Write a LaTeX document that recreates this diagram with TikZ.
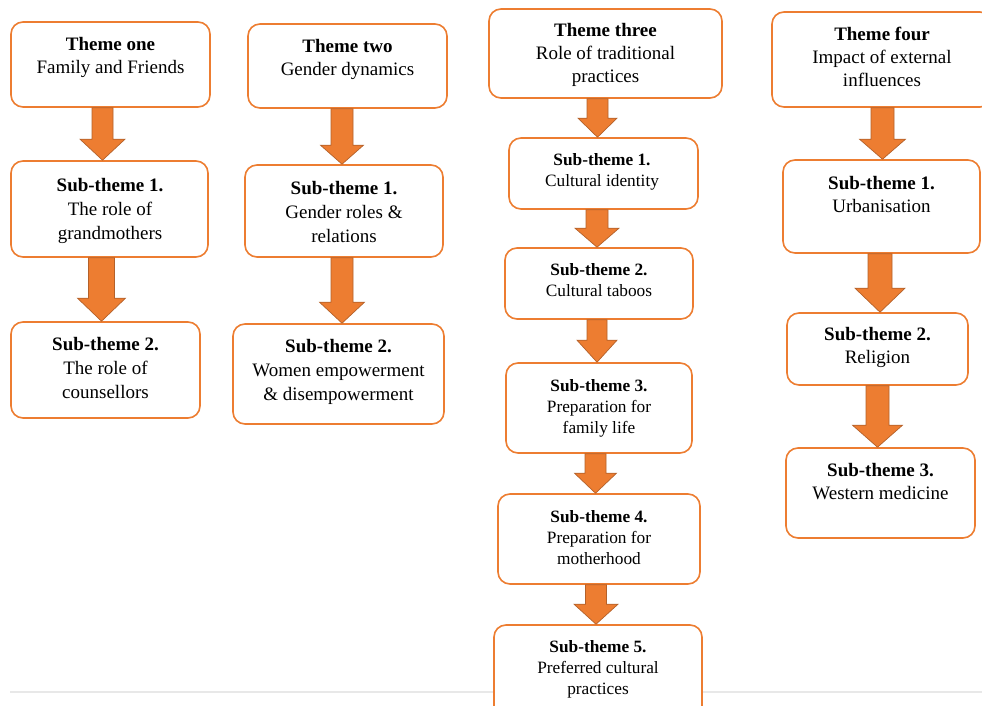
\documentclass[tikz,border=0pt]{standalone}
\usepackage{fontspec}
\setmainfont{Liberation Serif}
\usetikzlibrary{fit,calc}

\definecolor{themeorange}{HTML}{ED7D31}
\definecolor{arrowedge}{HTML}{B4612A}
\definecolor{rulegray}{HTML}{E8E8E8}

\tikzset{
  x=1pt, y=-1pt,
  box/.style={draw=themeorange, line width=1.6pt, rounded corners=12pt,
              fill=white, inner sep=0pt},
  themetxt/.style={inner sep=0pt, anchor=base, font=\fontsize{19}{23}\selectfont},
  subtxt/.style={inner sep=0pt, anchor=base, font=\fontsize{19}{24.3}\selectfont},
  smalltxt/.style={inner sep=0pt, anchor=base, font=\fontsize{17.3}{21}\selectfont},
  blockarrow/.style={fill=themeorange, draw=arrowedge, line width=0.7pt,
                     line join=miter},
}

% centred block of lines whose baseline is that of its first line
\newcommand{\textlines}[1]{\begin{tabular}[t]{@{}c@{}}#1\end{tabular}}

% block arrow from the bottom of #1 to the top of #2
% #3 centre x, #4 shaft width, #5 head width, #6 head height
\newcommand{\flowarrow}[6]{%
  \draw[blockarrow] let \p1=(#1.south), \p2=(#2.north) in
    ({#3pt-#4pt/2},\y1) -- ({#3pt+#4pt/2},\y1)
    -- ({#3pt+#4pt/2},{\y2+#6pt}) -- ({#3pt+#5pt/2},{\y2+#6pt})
    -- (#3pt,\y2)
    -- ({#3pt-#5pt/2},{\y2+#6pt}) -- ({#3pt-#4pt/2},{\y2+#6pt}) -- cycle;
}

\begin{document}
\begin{tikzpicture}
  \useasboundingbox (0,0) rectangle (982,706);
  \clip (0,0) rectangle (982,706);
  \fill[white] (0,0) rectangle (982,706);

  % thin rule near the bottom
  \draw[rulegray, line width=1.2pt] (10,692) -- (982,692);

  % ---- column 1 ----
  \node[box, fit={(11,22) (210,107)}] (t1) {};
  \node[box, fit={(11,161) (208,257)}] (s11) {};
  \node[box, fit={(11,322) (200,418)}] (s12) {};
  \node[themetxt] (t1l) at (110.5,51) {\textlines{\textbf{Theme one}\\Family and Friends}};
  \node[subtxt] (s11l) at (110,191) {\textlines{\textbf{Sub-theme 1.}\\The role of\\grandmothers}};
  \node[subtxt] (s12l) at (105.5,350) {\textlines{\textbf{Sub-theme 2.}\\The role of\\counsellors}};

  % ---- column 2 ----
  \node[box, fit={(248,24) (447,108)}] (t2) {};
  \node[box, fit={(245,165) (443,257)}] (s21) {};
  \node[box, fit={(233,324) (444,424)}] (s22) {};
  \node[themetxt] (t2l) at (347.5,53) {\textlines{\textbf{Theme two}\\Gender dynamics}};
  \node[subtxt] (s21l) at (344,194) {\textlines{\textbf{Sub-theme 1.}\\Gender roles \&\\relations}};
  \node[subtxt] (s22l) at (338.5,352) {\textlines{\textbf{Sub-theme 2.}\\Women empowerment\\\& disempowerment}};

  % ---- column 3 ----
  \node[box, fit={(489,9) (722,98)}] (t3) {};
  \node[box, fit={(509,138) (698,209)}] (s31) {};
  \node[box, fit={(505,248) (693,319)}] (s32) {};
  \node[box, fit={(506,363) (692,453)}] (s33) {};
  \node[box, fit={(498,494) (700,584)}] (s34) {};
  \node[box, fit={(494,625) (702,722)}] (s35) {};
  \node[themetxt] (t3l) at (605.5,37) {\textlines{\textbf{Theme three}\\Role of traditional\\practices}};
  \node[smalltxt] (s31l) at (602,165) {\textlines{\textbf{Sub-theme 1.}\\Cultural identity}};
  \node[smalltxt] (s32l) at (599,275) {\textlines{\textbf{Sub-theme 2.}\\Cultural taboos}};
  \node[smalltxt] (s33l) at (599,391) {\textlines{\textbf{Sub-theme 3.}\\Preparation for\\family life}};
  \node[smalltxt] (s34l) at (599,522) {\textlines{\textbf{Sub-theme 4.}\\Preparation for\\motherhood}};
  \node[smalltxt] (s35l) at (598,652) {\textlines{\textbf{Sub-theme 5.}\\Preferred cultural\\practices}};

  % ---- column 4 ----
  \node[box, fit={(772,12) (992,107)}] (t4) {};
  \node[box, fit={(783,160) (980,253)}] (s41) {};
  \node[box, fit={(787,313) (968,385)}] (s42) {};
  \node[box, fit={(786,448) (975,538)}] (s43) {};
  \node[themetxt] (t4l) at (882,41) {\textlines{\textbf{Theme four}\\Impact of external\\influences}};
  \node[themetxt] (s41l) at (881.5,189) {\textlines{\textbf{Sub-theme 1.}\\Urbanisation}};
  \node[themetxt] (s42l) at (877.5,340) {\textlines{\textbf{Sub-theme 2.}\\Religion}};
  \node[themetxt] (s43l) at (880.5,476) {\textlines{\textbf{Sub-theme 3.}\\Western medicine}};

  % ---- block arrows ----
  \flowarrow{t1}{s11}{102.5}{21}{45}{21}
  \flowarrow{s11}{s12}{101.5}{26}{48}{23}
  \flowarrow{t2}{s21}{342}{22}{43}{19}
  \flowarrow{s21}{s22}{342}{22}{45}{21}
  \flowarrow{t3}{s31}{597.5}{21}{39}{19}
  \flowarrow{s31}{s32}{597}{22}{44}{19}
  \flowarrow{s32}{s33}{597}{20}{40}{22}
  \flowarrow{s33}{s34}{595.5}{21}{42}{20}
  \flowarrow{s34}{s35}{596}{21}{44}{20}
  \flowarrow{t4}{s41}{882.5}{23}{46}{20}
  \flowarrow{s41}{s42}{880}{24}{50}{24}
  \flowarrow{s42}{s43}{877.5}{23}{50}{22}
\end{tikzpicture}
\end{document}
